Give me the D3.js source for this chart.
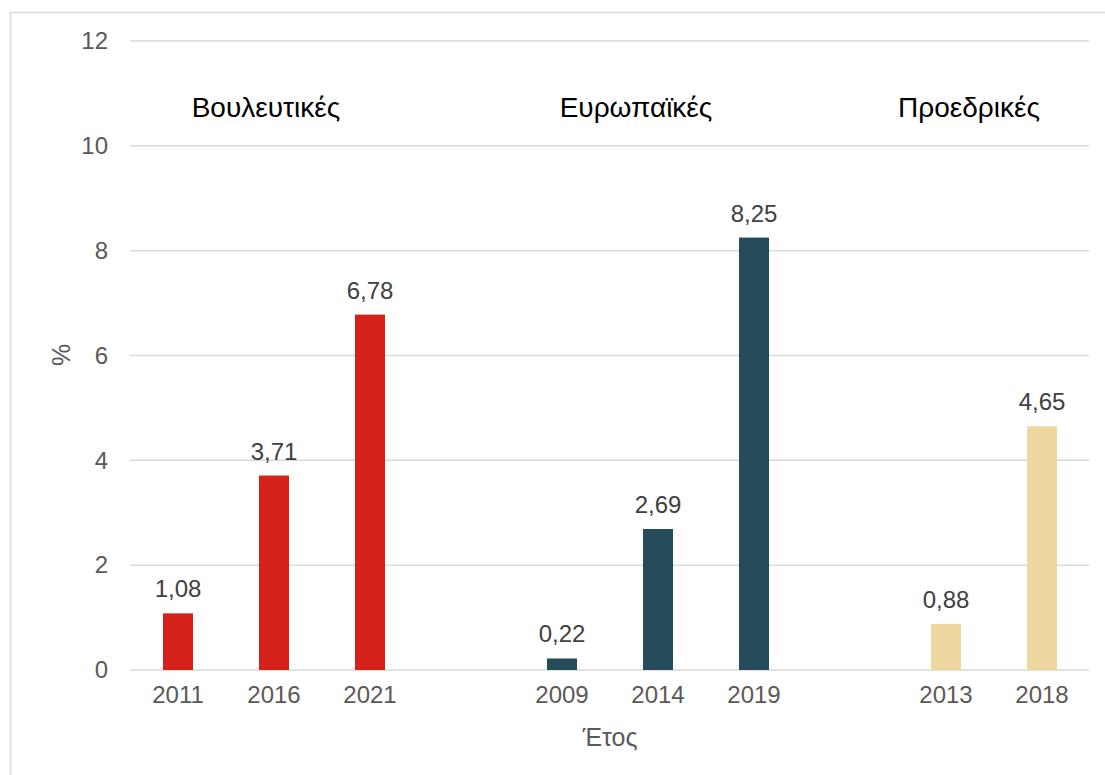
<!DOCTYPE html>
<html>
<head>
<meta charset="utf-8">
<script src="https://cdn.jsdelivr.net/npm/d3@7"></script>
<style>
  body { margin: 0; background: #fff; }
  svg text { font-family: "Liberation Sans", Arial, sans-serif; }
</style>
</head>
<body>
<div id="chart"></div>
<script>
// data
const years = ["2011", "2016", "2021", "2009", "2014", "2019", "2013", "2018"];
const groups = ["Βουλευτικές", "Βουλευτικές", "Βουλευτικές", "Ευρωπαϊκές", "Ευρωπαϊκές", "Ευρωπαϊκές", "Προεδρικές", "Προεδρικές"];
const values = [1.08, 3.71, 6.78, 0.22, 2.69, 8.25, 0.88, 4.65];
const groupNames = ["Βουλευτικές", "Ευρωπαϊκές", "Προεδρικές"];
const yTicks = [0, 2, 4, 6, 8, 10, 12];

const colors = { "Βουλευτικές": "#d52219", "Ευρωπαϊκές": "#244c5a", "Προεδρικές": "#efd8a0" };
const titleShift = { "Βουλευτικές": -8, "Ευρωπαϊκές": -22, "Προεδρικές": -25 };

const width = 1105, height = 775;

// slot keys, with an empty slot between groups
const slots = [];
years.forEach((y, i) => {
  if (i > 0 && groups[i] !== groups[i - 1]) slots.push("gap" + i);
  slots.push(y);
});

const svg = d3.select("#chart").append("svg")
  .attr("width", width)
  .attr("height", height);

// outer frame
svg.append("rect")
  .attr("x", 10.5).attr("y", 12.5)
  .attr("width", 1200).attr("height", 1000)
  .attr("fill", "none")
  .attr("stroke", "#d9d9d9")
  .attr("stroke-width", 1.5);

const x = d3.scaleBand()
  .domain(slots)
  .range([130, 1090])
  .paddingInner(0.6875)
  .paddingOuter(0.34375);

const y = d3.scaleLinear()
  .domain([0, 12])
  .range([670, 41]);

// gridlines
svg.append("g")
  .selectAll("line")
  .data(yTicks)
  .join("line")
  .attr("x1", 130).attr("x2", 1089)
  .attr("y1", d => y(d)).attr("y2", d => y(d))
  .attr("stroke", "#d9d9d9")
  .attr("stroke-width", 1.5);

// y axis labels
const yAxis = svg.append("g")
  .attr("transform", "translate(130,0)")
  .call(d3.axisLeft(y).tickValues(yTicks).tickSize(0).tickPadding(22));
yAxis.select(".domain").remove();
yAxis.selectAll("text")
  .attr("font-size", 24)
  .attr("fill", "#595959");

// x axis labels
const xAxis = svg.append("g")
  .attr("transform", "translate(0,670)")
  .call(d3.axisBottom(x).tickSize(0).tickPadding(16)
    .tickFormat(d => d.startsWith("gap") ? "" : d));
xAxis.select(".domain").remove();
xAxis.selectAll("text")
  .attr("font-size", 24)
  .attr("fill", "#595959");

// bars
svg.append("g")
  .selectAll("rect")
  .data(years)
  .join("rect")
  .attr("x", d => x(d))
  .attr("y", (d, i) => y(values[i]))
  .attr("width", x.bandwidth())
  .attr("height", (d, i) => y(0) - y(values[i]))
  .attr("fill", (d, i) => colors[groups[i]]);

// value labels
const fmt = v => d3.format(".2f")(v).replace(".", ",");
svg.append("g")
  .selectAll("text")
  .data(years)
  .join("text")
  .attr("x", d => x(d) + x.bandwidth() / 2)
  .attr("y", (d, i) => y(values[i]) - 16)
  .attr("text-anchor", "middle")
  .attr("font-size", 24)
  .attr("fill", "#404040")
  .text((d, i) => fmt(values[i]));

// group titles
svg.append("g")
  .selectAll("text")
  .data(groupNames)
  .join("text")
  .attr("x", g => {
    const ys = years.filter((d, i) => groups[i] === g);
    return (x(ys[0]) + x(ys[ys.length - 1]) + x.bandwidth()) / 2 + titleShift[g];
  })
  .attr("y", 117)
  .attr("text-anchor", "middle")
  .attr("font-size", 28)
  .attr("fill", "#000")
  .text(g => g);

// axis titles
svg.append("text")
  .attr("x", 610).attr("y", 746)
  .attr("text-anchor", "middle")
  .attr("font-size", 25)
  .attr("fill", "#595959")
  .text("Έτος");

svg.append("text")
  .attr("transform", "translate(70,355) rotate(-90)")
  .attr("text-anchor", "middle")
  .attr("font-size", 25)
  .attr("fill", "#595959")
  .text("%");
</script>
</body>
</html>
